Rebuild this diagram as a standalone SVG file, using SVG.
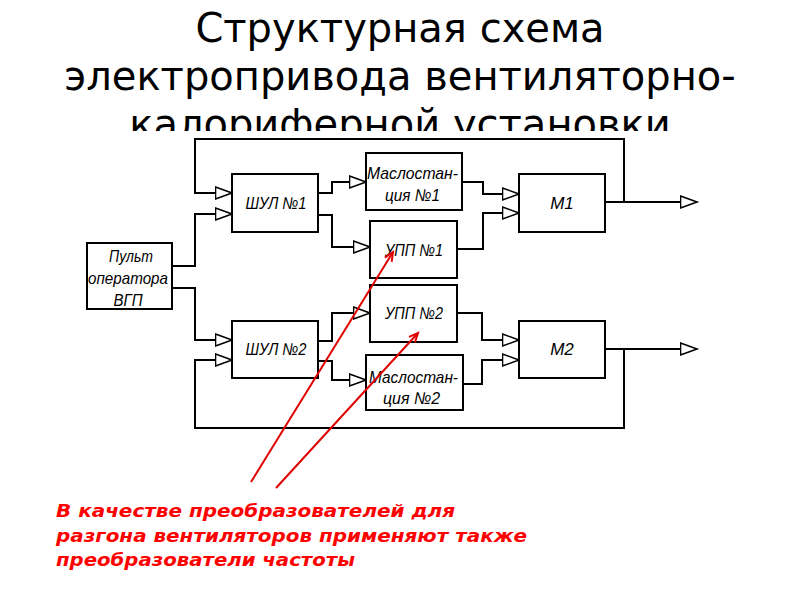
<svg xmlns="http://www.w3.org/2000/svg" width="800" height="600" viewBox="0 0 800 600">
<style>
.title{font-family:"DejaVu Sans",sans-serif;font-size:40px;fill:#000;text-anchor:middle}
.box{fill:#fff;stroke:#000;stroke-width:2}
.lbl{font-family:"Liberation Sans",Arial,sans-serif;font-style:italic;font-size:17px;fill:#000;text-anchor:middle}
.wire{fill:none;stroke:#000;stroke-width:2}
.red{fill:none;stroke:#e00000;stroke-width:2}
.note{font-family:"DejaVu Sans",sans-serif;font-weight:bold;font-style:italic;font-size:17px;fill:#ff0000}
</style>
<defs>
<marker id="tri" markerUnits="userSpaceOnUse" markerWidth="20" markerHeight="16" refX="17.5" refY="7" orient="auto">
<path d="M1,1 L17.5,7 L1,13 Z" fill="#fff" stroke="#000" stroke-width="1.6"/>
</marker>
<marker id="redv" markerUnits="userSpaceOnUse" markerWidth="14" markerHeight="14" refX="10" refY="6" orient="auto">
<path d="M1,2 L10,6 L1,10" fill="none" stroke="#e00000" stroke-width="2"/>
</marker>
</defs>
<rect width="800" height="600" fill="#fff"/>
<g id="title">
<text class="title" x="400" y="42">Структурная схема</text>
<text class="title" x="400" y="90">электропривода вентиляторно-</text>
<text class="title" x="400" y="138">калориферной установки</text>
</g>
<rect x="0" y="131" width="800" height="469" fill="#fff"/>
<g id="connectors">
<path class="wire" d="M624,202 V139 H195 V193 H232" marker-end="url(#tri)"/>
<path class="wire" d="M172,266 H195 V214 H232" marker-end="url(#tri)"/>
<path class="wire" d="M172,288 H195 V340 H232" marker-end="url(#tri)"/>
<path class="wire" d="M624,349 V428 H195 V360 H232" marker-end="url(#tri)"/>
<path class="wire" d="M318,193 H332 V182 H366" marker-end="url(#tri)"/>
<path class="wire" d="M318,215 H332 V247 H370" marker-end="url(#tri)"/>
<path class="wire" d="M462,182 H483 V194 H519" marker-end="url(#tri)"/>
<path class="wire" d="M457,249 H483 V213 H519" marker-end="url(#tri)"/>
<path class="wire" d="M605,202 H697" marker-end="url(#tri)"/>
<path class="wire" d="M318,341 H332 V313 H370" marker-end="url(#tri)"/>
<path class="wire" d="M318,361 H332 V380 H366" marker-end="url(#tri)"/>
<path class="wire" d="M457,313 H482 V340 H519" marker-end="url(#tri)"/>
<path class="wire" d="M463,384 H482 V360 H519" marker-end="url(#tri)"/>
<path class="wire" d="M605,349 H697" marker-end="url(#tri)"/>
</g>
<g id="pult">
<rect class="box" x="87" y="243" width="85" height="66"/>
<text class="lbl" x="131" y="262" textLength="44" lengthAdjust="spacingAndGlyphs">Пульт</text>
<text class="lbl" x="128" y="284" textLength="80" lengthAdjust="spacingAndGlyphs">оператора</text>
<text class="lbl" x="128" y="306" textLength="29" lengthAdjust="spacingAndGlyphs">ВГП</text>
</g>
<g id="shul1">
<rect class="box" x="232" y="174" width="86" height="58"/>
<text class="lbl" x="276" y="209" textLength="61" lengthAdjust="spacingAndGlyphs">ШУЛ №1</text>
</g>
<g id="shul2">
<rect class="box" x="232" y="321" width="86" height="57"/>
<text class="lbl" x="276" y="355" textLength="61" lengthAdjust="spacingAndGlyphs">ШУЛ №2</text>
</g>
<g id="masl1">
<rect class="box" x="366" y="153" width="96" height="57"/>
<text class="lbl" x="412.5" y="179" textLength="91" lengthAdjust="spacingAndGlyphs">Маслостан-</text>
<text class="lbl" x="412.5" y="201" textLength="55" lengthAdjust="spacingAndGlyphs">ция №1</text>
</g>
<g id="upp1">
<rect class="box" x="370" y="221" width="87" height="57"/>
<text class="lbl" x="414" y="256" textLength="58" lengthAdjust="spacingAndGlyphs">УПП №1</text>
</g>
<g id="upp2">
<rect class="box" x="370" y="285" width="87" height="57"/>
<text class="lbl" x="414" y="319" textLength="58" lengthAdjust="spacingAndGlyphs">УПП №2</text>
</g>
<g id="masl2">
<rect class="box" x="366" y="355" width="97" height="55"/>
<text class="lbl" x="413.5" y="383" textLength="89" lengthAdjust="spacingAndGlyphs">Маслостан-</text>
<text class="lbl" x="411.5" y="404" textLength="57" lengthAdjust="spacingAndGlyphs">ция №2</text>
</g>
<g id="m1">
<rect class="box" x="519" y="174" width="86" height="58"/>
<text class="lbl" x="562" y="209">М1</text>
</g>
<g id="m2">
<rect class="box" x="519" y="321" width="86" height="57"/>
<text class="lbl" x="562" y="355">М2</text>
</g>
<g id="annotation">
<path class="red" d="M251,482 L393,252" marker-end="url(#redv)"/>
<path class="red" d="M276,488 L418,333" marker-end="url(#redv)"/>
<text class="note" x="56" y="517" textLength="399" lengthAdjust="spacingAndGlyphs">В качестве преобразователей для</text>
<text class="note" x="56" y="542" textLength="471" lengthAdjust="spacingAndGlyphs">разгона вентиляторов применяют также</text>
<text class="note" x="56" y="566" textLength="299" lengthAdjust="spacingAndGlyphs">преобразователи частоты</text>
</g>
</svg>
